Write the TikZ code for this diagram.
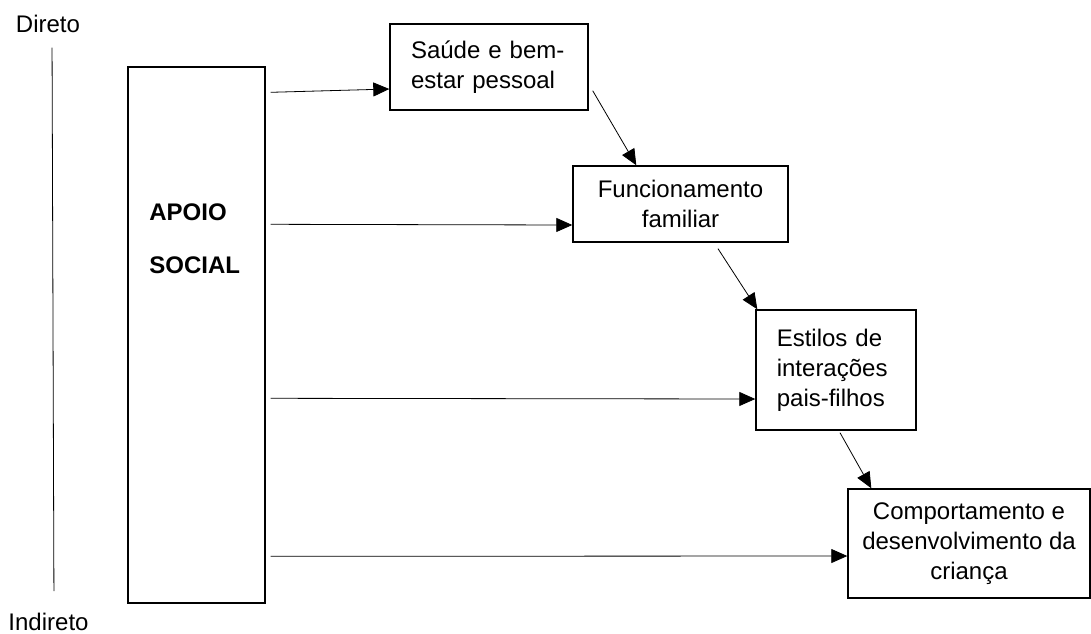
\documentclass[tikz,border=0pt]{standalone}
\usepackage{fontspec}
\setmainfont{Liberation Sans}
\usetikzlibrary{arrows.meta,positioning}
\tikzset{
    caixa/.style ={
        shape=rectangle,
        draw=black,
        line width=0.7pt,
        inner ysep=0pt,
        font=\fontsize{12}{15}\selectfont
    },
    rotulo/.style ={
        inner sep=0pt,
        font=\fontsize{12}{15}\selectfont
    },
    seta/.style ={
        draw=black,
        line width=0.4pt,
        -{Triangle[length=8pt,width=7pt]}
    }
}

\begin{document}
\begin{tikzpicture}[x=0.5pt,y=-0.5pt]
    \useasboundingbox (0,0) rectangle (1091,633);
    \node[rotulo,anchor=base] (direto) at(48,32) {Direto};
    \node[rotulo,anchor=base] (indireto) at(48.5,630) {Indireto};
    \node[caixa,minimum width=68.5pt,minimum height=268pt] (apoio) at(196.5,335) {};
    \node[rotulo,anchor=base west,font=\fontsize{12}{15}\selectfont\bfseries] (apoio1) at(149,220) {APOIO};
    \node[rotulo,anchor=base west,font=\fontsize{12}{15}\selectfont\bfseries] (apoio2) at(149,273) {SOCIAL};
    \node[caixa,text width=78pt,inner xsep=10.5pt,minimum height=43pt,align=left] (saude) at(489,67) {Saúde e bem-\\estar pessoal};
    \node[caixa,minimum width=107.5pt,minimum height=38pt,align=center] (familia) at(680.5,204) {Funcionamento\\familiar};
    \node[caixa,text width=59.2pt,inner xsep=10.4pt,minimum height=60pt,align=left] (estilos) at(836,370) {Estilos de\\interações\\pais-filhos};
    \node[caixa,minimum width=121pt,minimum height=54.5pt,align=center] (crianca) at(969,543.5) {Comportamento e\\desenvolvimento da\\criança};
    \draw[line width=0.4pt,shorten <=7.5pt,shorten >=10.5pt] ([xshift=2pt]direto.south) -- ([xshift=2.75pt]indireto.north);
    \draw[seta] ([xshift=2.5pt,yshift=-13pt]apoio.north east) -- ([yshift=-11pt]saude.west);
    \draw[seta] ([xshift=2.5pt,yshift=-79pt]apoio.north east) -- ([yshift=-10.5pt]familia.west);
    \draw[seta] ([xshift=2.5pt,yshift=-166pt]apoio.north east) -- ([yshift=-14.5pt]estilos.west);
    \draw[seta] ([xshift=2.5pt,yshift=-245pt]apoio.north east) -- ([yshift=-6.25pt]crianca.west);
    \draw[seta] ([xshift=2pt,yshift=10pt]saude.south east) -- ([xshift=32pt]familia.north west);
    \draw[seta] ([xshift=18.75pt,yshift=-3pt]familia.south) -- ([xshift=1pt]estilos.north west);
    \draw[seta] ([xshift=2pt,yshift=-1pt]estilos.south) -- ([xshift=12pt]crianca.north west);
\end{tikzpicture}
\end{document}
